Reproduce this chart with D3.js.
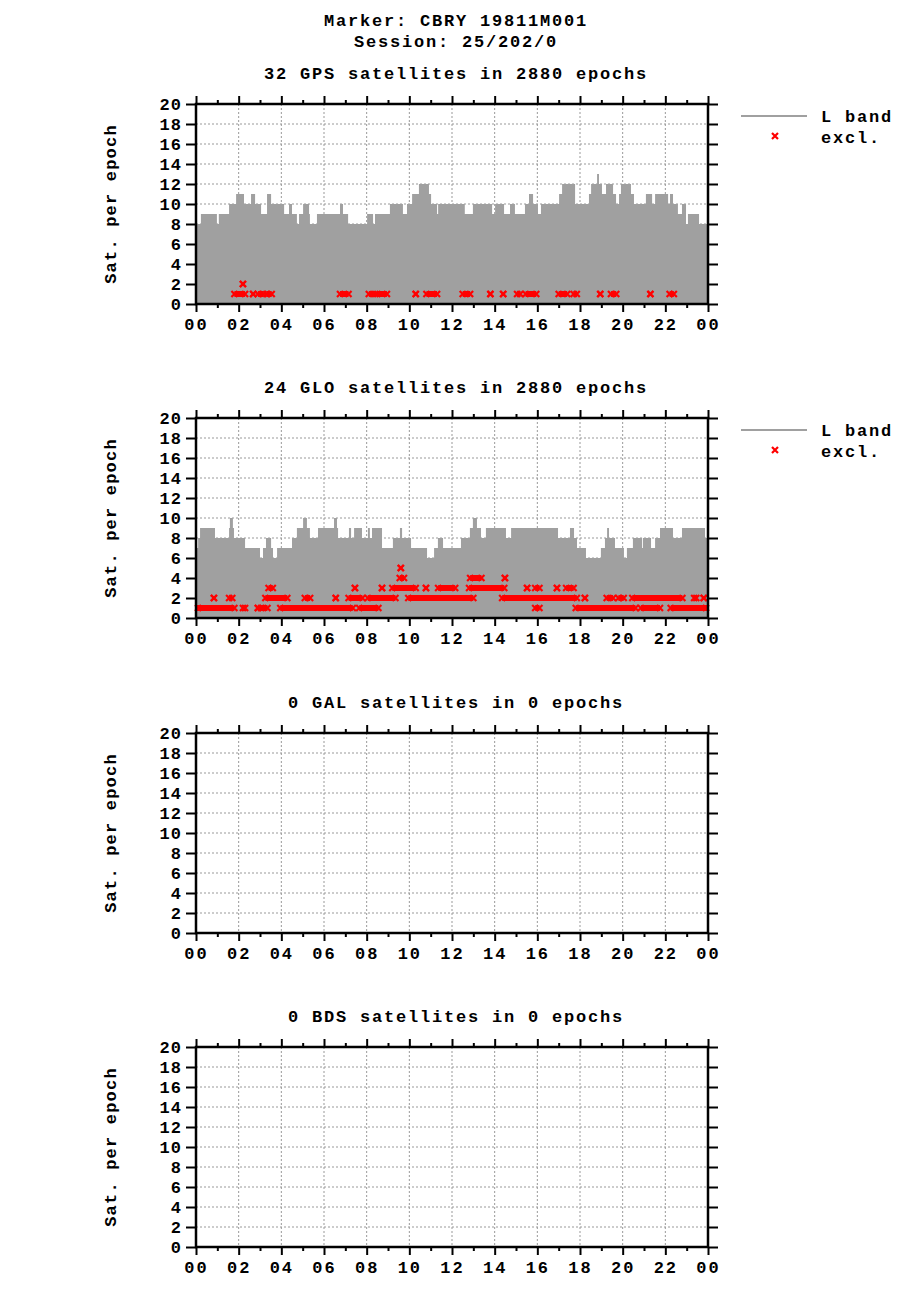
<!DOCTYPE html>
<html><head><meta charset="utf-8">
<script src="https://cdn.jsdelivr.net/npm/d3@7"></script>
<style>body{margin:0;background:#fff}text{font-family:"Liberation Mono","DejaVu Sans Mono",monospace;font-weight:bold}</style>
</head><body><svg id="c" width="920" height="1300"></svg>
<script>
const titleLines = ["Marker: CBRY 19811M001", "Session: 25/202/0"];
const panelTitles = ["32 GPS satellites in 2880 epochs", "24 GLO satellites in 2880 epochs", "0 GAL satellites in 0 epochs", "0 BDS satellites in 0 epochs"];
const hourTicks = ["00","02","04","06","08","10","12","14","16","18","20","22","00"];
const yTicks = [0,2,4,6,8,10,12,14,16,18,20];
const legendLabels = ["L band", "excl."];
// [startHour, endHour, satellites]
const gpsCounts = [[0,0.23,8],[0.23,0.98,9],[0.98,1.07,8],[1.07,1.55,9],[1.55,1.88,10],[1.88,2.25,11],[2.25,2.58,10],[2.58,2.77,11],[2.77,3.05,10],[3.05,3.33,9],[3.33,3.52,11],[3.52,4.13,10],[4.13,4.36,9],[4.36,4.5,10],[4.5,4.73,9],[4.73,4.83,8],[4.83,5.02,9],[5.02,5.3,10],[5.3,5.34,9],[5.34,5.67,8],[5.67,6.75,9],[6.75,6.89,10],[6.89,7.13,9],[7.13,8.02,8],[8.02,8.3,9],[8.3,8.39,8],[8.39,9.09,9],[9.09,9.7,10],[9.7,9.89,9],[9.89,10.13,10],[10.13,10.45,11],[10.45,10.92,12],[10.92,11.02,11],[11.02,11.3,10],[11.3,11.35,9],[11.35,12.6,10],[12.6,12.98,9],[12.98,13.88,10],[13.88,14.02,9],[14.02,14.44,10],[14.44,14.72,9],[14.72,14.95,10],[14.95,15.42,9],[15.42,15.61,10],[15.61,15.8,11],[15.8,16.03,10],[16.03,16.17,9],[16.17,17.02,10],[17.02,17.16,11],[17.16,17.77,12],[17.77,18.42,10],[18.42,18.52,11],[18.52,18.8,12],[18.8,18.89,13],[18.89,19.03,12],[19.03,19.22,11],[19.22,19.55,12],[19.55,19.69,11],[19.69,19.83,10],[19.83,19.92,11],[19.92,20.39,12],[20.39,20.53,11],[20.53,21.09,10],[21.09,21.38,11],[21.38,21.52,10],[21.52,22.13,11],[22.13,22.22,10],[22.22,22.36,11],[22.36,22.59,10],[22.59,22.78,9],[22.78,22.97,10],[22.97,23.06,8],[23.06,23.58,9],[23.58,24,8]];
const gloCounts = [[0,0.1,7],[0.1,0.19,8],[0.19,0.89,9],[0.89,1.55,8],[1.55,1.59,9],[1.59,1.73,10],[1.73,1.78,9],[1.78,2.3,8],[2.3,3.0,7],[3.0,3.14,6],[3.14,3.28,7],[3.28,3.52,8],[3.52,3.61,7],[3.61,3.8,6],[3.8,4.5,7],[4.5,4.73,8],[4.73,5.02,9],[5.02,5.2,10],[5.2,5.34,9],[5.34,5.72,8],[5.72,6.47,9],[6.47,6.61,10],[6.61,6.66,9],[6.66,7.17,8],[7.17,7.27,9],[7.27,7.41,8],[7.41,7.78,9],[7.78,8.06,8],[8.06,8.15,9],[8.15,8.25,8],[8.25,8.72,9],[8.72,9.23,7],[9.23,9.56,8],[9.56,9.66,9],[9.66,10.08,8],[10.08,10.83,7],[10.83,11.16,6],[11.16,11.34,7],[11.34,11.58,8],[11.58,12.42,7],[12.42,12.84,8],[12.84,12.98,9],[12.98,13.17,10],[13.17,13.36,9],[13.36,13.59,8],[13.59,14.53,9],[14.53,14.77,8],[14.77,16.97,9],[16.97,17.53,8],[17.53,17.72,9],[17.72,17.86,8],[17.86,18.28,7],[18.28,18.98,6],[18.98,19.17,7],[19.17,19.27,8],[19.27,19.36,9],[19.36,19.64,8],[19.64,20.06,7],[20.06,20.2,6],[20.2,20.48,7],[20.48,20.91,8],[20.91,20.95,7],[20.95,21.33,8],[21.33,21.52,7],[21.52,21.75,8],[21.75,22.36,9],[22.36,22.78,8],[22.78,23.86,9],[23.86,24,8]];
// excluded runs [startHour, endHour, level]
const gpsExcl = [[1.8,2.3,1],[2.2,2.2,2],[2.68,2.68,1],[2.9,3.15,1],[3.3,3.55,1],[6.75,7.15,1],[8.1,8.4,1],[8.5,8.95,1],[10.3,10.3,1],[10.8,11.3,1],[12.5,12.85,1],[13.8,13.8,1],[14.4,14.4,1],[15.05,15.2,1],[15.45,15.95,1],[17.0,17.4,1],[17.7,17.85,1],[18.95,18.95,1],[19.45,19.7,1],[21.3,21.3,1],[22.2,22.4,1]];
const gloExcl = [[0,1.8,1],[2.2,2.3,1],[2.9,2.9,1],[3.05,3.35,1],[3.95,7.35,1],[7.65,8.55,1],[0.84,0.84,2],[1.55,1.7,2],[3.25,4.28,2],[5.1,5.35,2],[6.55,6.55,2],[7.15,7.8,2],[8.05,9.35,2],[9.95,13.0,2],[14.35,17.85,2],[18.23,18.23,2],[19.25,19.55,2],[19.8,20.05,2],[20.45,22.8,2],[23.35,23.45,2],[23.8,23.8,2],[3.4,3.6,3],[7.45,7.45,3],[8.72,8.72,3],[9.2,10.3,3],[10.78,10.78,3],[11.35,12.15,3],[12.8,14.45,3],[15.52,15.52,3],[15.9,16.1,3],[16.92,16.92,3],[17.35,17.7,3],[9.55,9.75,4],[12.85,13.38,4],[14.48,14.48,4],[9.6,9.6,5],[15.9,16.1,1],[17.8,20.6,1],[20.85,21.75,1],[22.25,24,1]];

const panels = [
  {title: panelTitles[0], counts: gpsCounts, excl: gpsExcl, top: 104, legend: true},
  {title: panelTitles[1], counts: gloCounts, excl: gloExcl, top: 418, legend: true},
  {title: panelTitles[2], counts: [], excl: [], top: 733, legend: false},
  {title: panelTitles[3], counts: [], excl: [], top: 1047, legend: false}
];
const svg = d3.select("#c");
const L = 196, R = 708, H = 200;
svg.selectAll(".tt").data(titleLines).enter().append("text")
  .attr("x", 456).attr("y", (d,i)=>26+i*21).attr("text-anchor","middle").attr("font-size",17).attr("letter-spacing",1.8).text(d=>d);

const x = d3.scaleLinear().domain([0,24]).range([L,R]);
panels.forEach(p => {
  const y = d3.scaleLinear().domain([0,20]).range([p.top+H, p.top]);
  const g = svg.append("g");
  g.append("text").attr("x",456).attr("y",p.top-25).attr("text-anchor","middle").attr("font-size",17).attr("letter-spacing",1.8).text(p.title);
  // grid
  g.selectAll(".gy").data(yTicks.slice(1,-1)).enter().append("line")
    .attr("x1",L).attr("x2",R).attr("y1",d=>y(d)).attr("y2",d=>y(d))
    .attr("stroke","#999").attr("stroke-dasharray","2,2").attr("stroke-width",1);
  g.selectAll(".gx").data(d3.range(2,24,2)).enter().append("line")
    .attr("x1",d=>x(d)).attr("x2",d=>x(d)).attr("y1",p.top).attr("y2",p.top+H)
    .attr("stroke","#999").attr("stroke-dasharray","2,2").attr("stroke-width",1);
  // area
  if (p.counts.length) {
    const pts = p.counts.map(s=>({t:s[0],v:s[2]}));
    const last = p.counts[p.counts.length-1]; pts.push({t:last[1], v:last[2]});
    g.append("path").datum(pts).attr("fill","#a0a0a0")
      .attr("d", d3.area().curve(d3.curveStepAfter).x(d=>x(d.t)).y0(y(0)).y1(d=>y(d.v)));
  }
  // grid over? grid shown over area in reference where white only; skip
  const mk = (sel, cx, cy) => sel.append("path")
      .attr("d",`M${cx-3},${cy-3}L${cx+3},${cy+3}M${cx-3},${cy+3}L${cx+3},${cy-3}`)
      .attr("stroke","red").attr("stroke-width",2.2);
  p.excl.forEach(r => {
    const x0 = x(r[0]), x1 = x(r[1]), cy = y(r[2]);
    if (x1 - x0 > 1) g.append("rect").attr("x",x0).attr("y",cy-3).attr("width",x1-x0).attr("height",6).attr("fill","red");
    mk(g, Math.max(x0,L+2), cy); mk(g, Math.min(x1,R-2), cy);
  });
  // axes
  const yAxisL = d3.axisLeft(y).tickValues(yTicks).tickSize(10).tickFormat(d3.format("d"));
  const gl = g.append("g").attr("transform",`translate(${L},0)`).call(yAxisL);
  const gr = g.append("g").attr("transform",`translate(${R},0)`).call(d3.axisRight(y).tickValues(yTicks).tickSize(10).tickFormat(""));
  const xMaj = d3.range(0,25,2), xMin = d3.range(1,24,2);
  const gb = g.append("g").attr("transform",`translate(0,${p.top+H})`).call(d3.axisBottom(x).tickValues(xMaj).tickSize(8).tickFormat((d,i)=>hourTicks[i]));
  g.append("g").attr("transform",`translate(0,${p.top+H})`).call(d3.axisBottom(x).tickValues(xMin).tickSize(4).tickFormat(""));
  g.append("g").attr("transform",`translate(0,${p.top})`).call(d3.axisTop(x).tickValues(xMaj).tickSize(8).tickFormat(""));
  g.append("g").attr("transform",`translate(0,${p.top})`).call(d3.axisTop(x).tickValues(xMin).tickSize(4).tickFormat(""));
  g.selectAll(".domain").remove();
  g.selectAll(".tick line").attr("stroke","#000").attr("stroke-width",2);
  g.append("rect").attr("x",L).attr("y",p.top).attr("width",R-L).attr("height",H).attr("fill","none").attr("stroke","#000").attr("stroke-width",2.5);
  gl.selectAll("text").attr("font-size",17).attr("font-family","Liberation Mono").attr("font-weight","bold").attr("x",-14).attr("letter-spacing",1);
  gb.selectAll("text").attr("font-size",17).attr("font-family","Liberation Mono").attr("font-weight","bold").attr("y",14).attr("letter-spacing",2);
  g.append("text").attr("transform",`translate(116,${p.top+H/2}) rotate(-90)`).attr("text-anchor","middle")
    .attr("font-size",17).attr("letter-spacing",1.2).text("Sat. per epoch");
  if (p.legend) {
    g.append("line").attr("x1",741).attr("x2",807).attr("y1",p.top+12).attr("y2",p.top+12).attr("stroke","#a0a0a0").attr("stroke-width",2);
    mk(g, 775, p.top+32);
    g.selectAll(".lg").data(legendLabels).enter().append("text").attr("x",821).attr("y",(d,i)=>p.top+18+i*21)
      .attr("font-size",17).attr("letter-spacing",1.8).text(d=>d);
  }
});
</script></body></html>
